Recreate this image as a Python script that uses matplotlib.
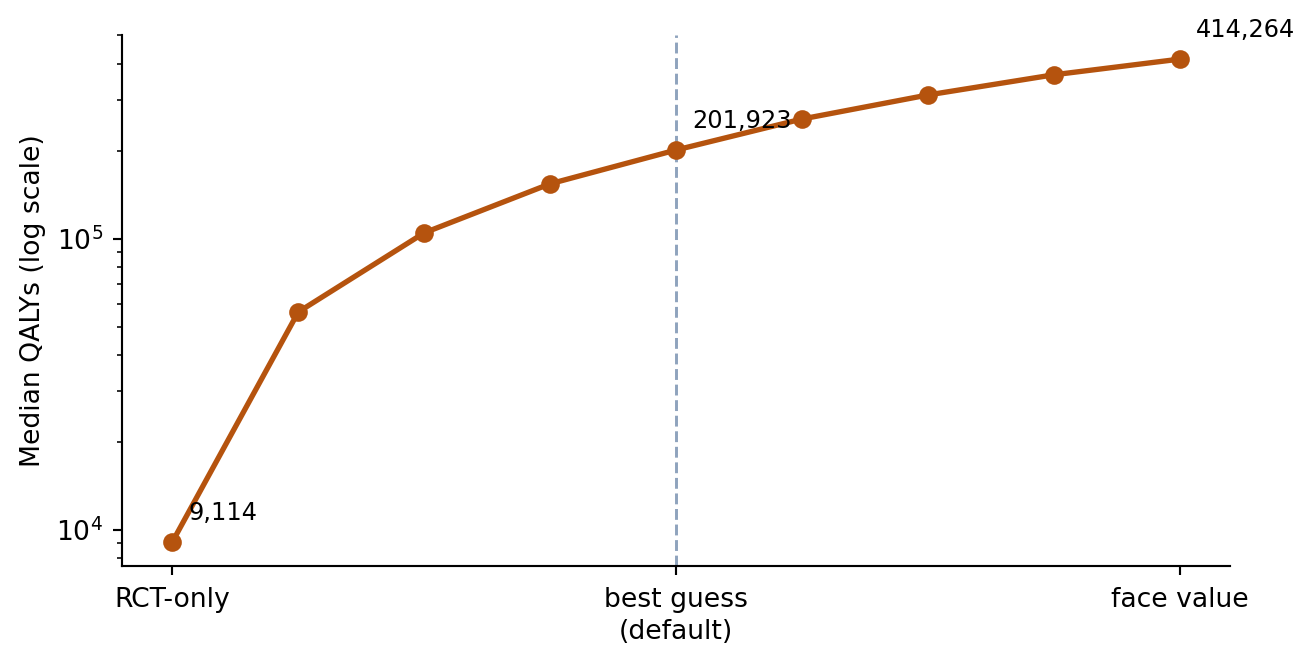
import matplotlib.pyplot as plt
import numpy as np

# discount settings from RCT-only to face value
x_pos = np.arange(9)
qalys = [9114, 56100, 104900, 154600, 201923, 258000, 312000, 366000, 414264]
tick_pos = [0, 4, 8]
tick_labels = ['RCT-only', 'best guess\n(default)', 'face value']
labelled = [0, 4, 8]

fig, ax = plt.subplots(figsize=(1313 / 192, 670 / 192), dpi=192)
fig.subplots_adjust(left=122 / 1313, right=1230 / 1313, top=1 - 35 / 670, bottom=1 - 566 / 670)

ax.plot(x_pos, qalys, color='#b5530e', lw=2.0, marker='o', ms=6, zorder=3)
ax.axvline(4, color='#8fa3bd', ls='--', lw=1.1, zorder=1)

for i in labelled:
    ax.annotate(f'{qalys[i]:,}', (x_pos[i], qalys[i]), xytext=(6, 6.5),
                textcoords='offset points', fontsize=9, va='bottom')

ax.set_yscale('log')
ax.set_xlim(-0.4, 8.4)
ax.set_xticks(tick_pos)
ax.set_xticklabels(tick_labels, linespacing=1.3)
ax.tick_params(axis='x', pad=4.5)
ax.set_ylabel('Median QALYs (log scale)')
ax.spines['top'].set_visible(False)
ax.spines['right'].set_visible(False)

fig.savefig('out.png', dpi=192)
